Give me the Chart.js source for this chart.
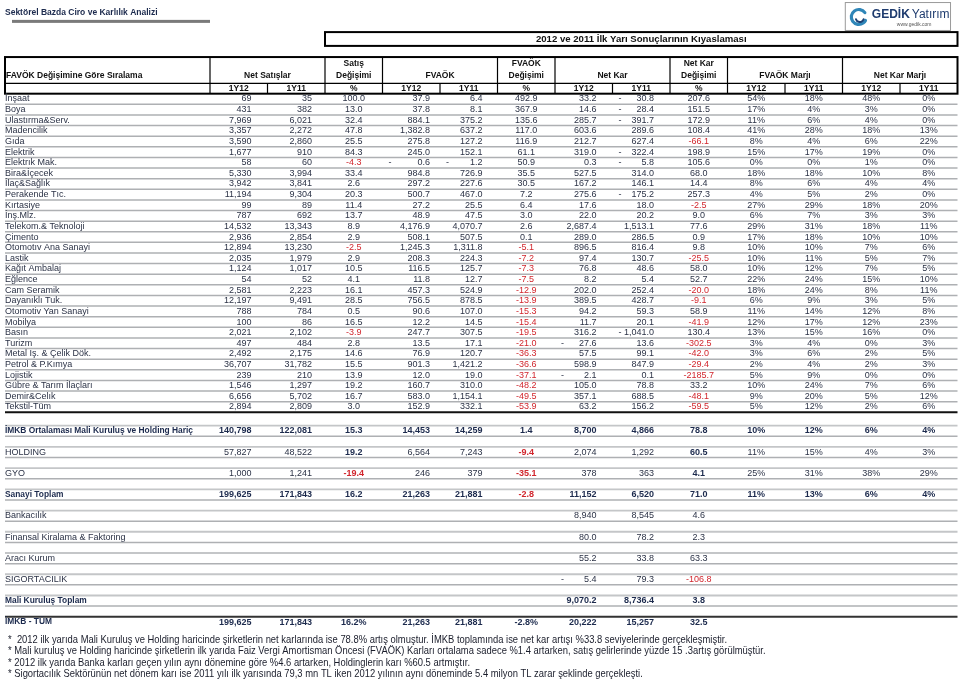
<!DOCTYPE html>
<html><head><meta charset="utf-8">
<script src="https://cdn.jsdelivr.net/npm/chart.js@4.4.0/dist/chart.umd.min.js"></script>
<style>html,body{margin:0;padding:0;background:#fff;}canvas{display:block;}</style>
</head><body>
<canvas id="c" width="960" height="682"></canvas>
<script>
// ---------- DATA ----------
const sectors = ["İnşaat","Boya","Ulastırma&Serv.","Madencilik","Gıda","Elektrik","Elektrık Mak.","Bira&İçecek","İlaç&Sağlık","Perakende Tıc.","Kırtasiye","İnş.Mlz.","Telekom.& Teknoloji","Çimento","Otomotıv Ana Sanayi","Lastik","Kağıt Ambalaj","Eğlence","Cam Seramik","Dayanıklı Tuk.","Otomotiv Yan Sanayi","Mobilya","Basın","Turizm","Metal Iş. & Çelik Dök.","Petrol & P.Kımya","Lojistik","Gübre & Tarım İlaçları","Demir&Celık","Tekstil-Tüm"];
const sales12 = [69,431,7969,3357,3590,1677,58,5330,3942,11194,99,787,14532,2936,12894,2035,1124,54,2581,12197,788,100,2021,497,2492,36707,239,1546,6656,2894];
const sales11 = [35,382,6021,2272,2860,910,60,3994,3841,9304,89,692,13343,2854,13230,1979,1017,52,2223,9491,784,86,2102,484,2175,31782,210,1297,5702,2809];
const salesChg = [100.0,13.0,32.4,47.8,25.5,84.3,-4.3,33.4,2.6,20.3,11.4,13.7,8.9,2.9,-2.5,2.9,10.5,4.1,16.1,28.5,0.5,16.5,-3.9,2.8,14.6,15.5,13.9,19.2,16.7,3.0];
const fvaok12 = [37.9,37.8,884.1,1382.8,275.8,245.0,-0.6,984.8,297.2,500.7,27.2,48.9,4176.9,508.1,1245.3,208.3,116.5,11.8,457.3,756.5,90.6,12.2,247.7,13.5,76.9,901.3,12.0,160.7,583.0,152.9];
const fvaok11 = [6.4,8.1,375.2,637.2,127.2,152.1,-1.2,726.9,227.6,467.0,25.5,47.5,4070.7,507.5,1311.8,224.3,125.7,12.7,524.9,878.5,107.0,14.5,307.5,17.1,120.7,1421.2,19.0,310.0,1154.1,332.1];
const fvaokChg = [492.9,367.9,135.6,117.0,116.9,61.1,50.9,35.5,30.5,7.2,6.4,3.0,2.6,0.1,-5.1,-7.2,-7.3,-7.5,-12.9,-13.9,-15.3,-15.4,-19.5,-21.0,-36.3,-36.6,-37.1,-48.2,-49.5,-53.9];
const net12 = [33.2,14.6,285.7,603.6,212.7,319.0,0.3,527.5,167.2,275.6,17.6,22.0,2687.4,289.0,896.5,97.4,76.8,8.2,202.0,389.5,94.2,11.7,316.2,-27.6,57.5,598.9,-2.1,105.0,357.1,63.2];
const net11 = [-30.8,-28.4,-391.7,289.6,627.4,-322.4,-5.8,314.0,146.1,-175.2,18.0,20.2,1513.1,286.5,816.4,130.7,48.6,5.4,252.4,428.7,59.3,20.1,-1041.0,13.6,99.1,847.9,0.1,78.8,688.5,156.2];
const netChg = [207.6,151.5,172.9,108.4,-66.1,198.9,105.6,68.0,14.4,257.3,-2.5,9.0,77.6,0.9,9.8,-25.5,58.0,52.7,-20.0,-9.1,58.9,-41.9,130.4,-302.5,-42.0,-29.4,-2185.7,33.2,-48.1,-59.5];
const fvaokMargin12 = [54,17,11,41,8,15,0,18,8,4,27,6,29,17,10,10,10,22,18,6,11,12,13,3,3,2,5,10,9,5];
const fvaokMargin11 = [18,4,6,28,4,17,0,18,6,5,29,7,31,18,10,11,12,24,24,9,14,17,15,4,6,4,9,24,20,12];
const netMargin12 = [48,3,4,18,6,19,1,10,4,2,18,3,18,10,7,5,7,15,8,3,12,12,16,0,2,2,0,7,5,2];
const netMargin11 = [0,0,0,13,22,0,0,8,4,0,20,3,11,10,6,7,5,10,11,5,8,23,0,3,5,3,0,6,12,6];

const summaryLabels = ["İMKB Ortalaması Mali Kuruluş ve Holding Hariç","HOLDING","GYO","Sanayi Toplam","Bankacılık","Finansal Kiralama & Faktoring","Aracı Kurum","SIGORTACILIK","Mali Kuruluş Toplam","İMKB - TÜM"];
const sumSales12 = [140798,57827,1000,199625,null,null,null,null,null,199625];
const sumSales11 = [122081,48522,1241,171843,null,null,null,null,null,171843];
const sumSalesChg = [15.3,19.2,-19.4,16.2,null,null,null,null,null,16.2];
const sumFvaok12 = [14453,6564,246,21263,null,null,null,null,null,21263];
const sumFvaok11 = [14259,7243,379,21881,null,null,null,null,null,21881];
const sumFvaokChg = [1.4,-9.4,-35.1,-2.8,null,null,null,null,null,-2.8];
const sumNet12 = [8700,2074,378,11152,8940,80.0,55.2,-5.4,9070.2,20222];
const sumNet11 = [4866,1292,363,6520,8545,78.2,33.8,79.3,8736.4,15257];
const sumNetChg = [78.8,60.5,4.1,71.0,4.6,2.3,63.3,-106.8,3.8,32.5];
const sumFvaokMargin12 = [10,11,25,11,null,null,null,null,null,null];
const sumFvaokMargin11 = [12,15,31,13,null,null,null,null,null,null];
const sumNetMargin12 = [6,4,38,6,null,null,null,null,null,null];
const sumNetMargin11 = [4,3,29,4,null,null,null,null,null,null];
const sumDecimals = [0,0,0,0,0,1,1,1,1,0];

const groupHeaders = ["Net Satışlar","Satış|Değişimi","FVAÖK","FVAÖK|Değişimi","Net Kar","Net Kar|Değişimi","FVAÖK Marjı","Net Kar Marjı"];
const subHeaders = ["1Y12","1Y11","%","1Y12","1Y11","%","1Y12","1Y11","%","1Y12","1Y11","1Y12","1Y11"];
const footnotes = [
 "*  2012 ilk yarıda Mali Kuruluş ve Holding haricinde şirketlerin net karlarında ise 78.8% artış olmuştur. İMKB toplamında ise net kar artışı %33.8 seviyelerinde gerçekleşmiştir.",
 "* Mali kuruluş ve Holding haricinde şirketlerin ilk yarıda Faiz Vergi Amortisman Öncesi (FVAÖK) Karları ortalama sadece %1.4 artarken, satış gelirlerinde yüzde 15 .3artış görülmüştür.",
 "* 2012 ilk yarıda Banka karları geçen yılın aynı dönemine göre %4.6 artarken, Holdinglerin karı %60.5 artmıştır.",
 "* Sigortacılık Sektörünün net dönem karı ise 2011 yılı ilk yarısında 79,3 mn TL iken 2012 yılının aynı döneminde 5.4 milyon TL zarar şeklinde gerçekleşti."
];

// ---------- LAYOUT / STYLE ----------
const COLW = 57.5, ROWH = 10.62, X0 = 210, Y0 = 99;   // pixel mapping of column/row units
const W = 960, H = 682;
const colKinds = ['val','val','pct','val','val','pct','val','val','pct','mrg','mrg','mrg','mrg'];
const colDec = [0,0,1,1,1,1,1,1,1,0,0,0,0];
const rightPad = [16,13,0,10,15,0,16,16,0,0,0,0,0];
const groupSpans = [[0,2],[2,3],[3,5],[5,6],[6,8],[8,9],[9,11],[11,13]];
const SUM_START = 31.25, SUM_STEP = 2;
const sumBold = [1,0,0,1,0,0,0,0,1,1];
const sumPctBold = [1,1,1,1,0,0,0,0,1,1];
const TXT = '#2b3246', NAVY = '#1c2a4d', RED = '#d1262d', GREY = '#aeb0b3';
const FONT = '"Liberation Sans", Arial, sans-serif';
const FN_REF_LINE = 2, FN_REF_END = 470;

const cols = [sales12,sales11,salesChg,fvaok12,fvaok11,fvaokChg,net12,net11,netChg,fvaokMargin12,fvaokMargin11,netMargin12,netMargin11];
const sumCols = [sumSales12,sumSales11,sumSalesChg,sumFvaok12,sumFvaok11,sumFvaokChg,sumNet12,sumNet11,sumNetChg,sumFvaokMargin12,sumFvaokMargin11,sumNetMargin12,sumNetMargin11];
const anchorX = j => colKinds[j]==='val' ? j+1 : j+0.5;
const LABEL_X = (5 - X0)/COLW;

const datasets = cols.map((arr,j)=>{
  const pts = arr.map((v,i)=>({x:anchorX(j), y:i, v, sum:-1}));
  sumCols[j].forEach((v,k)=>{ if(v!==null) pts.push({x:anchorX(j), y:SUM_START+SUM_STEP*k, v, sum:k}); });
  return {label:subHeaders[j], col:j, data:pts, pointRadius:0, pointHoverRadius:0, showLine:false};
});
const labelPts = sectors.map((t,i)=>({x:LABEL_X, y:i, t, sum:-1}));
summaryLabels.forEach((t,k)=>labelPts.push({x:LABEL_X, y:SUM_START+SUM_STEP*k, t, sum:k}));
datasets.push({label:'labels', col:-1, data:labelPts, pointRadius:0, pointHoverRadius:0, showLine:false});

function fmtNum(v, dec){ return Math.abs(v).toLocaleString('en-US',{minimumFractionDigits:dec, maximumFractionDigits:dec}); }

const tablePlugin = {
  id:'tablePlugin',
  afterDatasetsDraw(chart){
    const ctx = chart.ctx, sx = chart.scales.x, sy = chart.scales.y;
    const X = v=>sx.getPixelForValue(v), Y = v=>sy.getPixelForValue(v);
    const L = X(LABEL_X), R = X(13);
    ctx.save();
    // Sheet title
    ctx.fillStyle = NAVY; ctx.font = 'bold 8.5px '+FONT; ctx.textBaseline='middle'; ctx.textAlign='left';
    ctx.fillText('Sektörel Bazda Ciro ve Karlılık Analizi', L, Y(-8.1));
    ctx.fillStyle = '#7a7a7a'; ctx.fillRect(X((12-X0)/COLW), Y(-7.45), X(0)-X((12-X0)/COLW), 3);
    // Logo
    drawLogo(ctx, X(11.04), Y(-9.13), X(12.87)-X(11.04), Y(-6.5)-Y(-9.13));
    // Comparison title box
    ctx.strokeStyle='#000'; ctx.lineWidth=2;
    ctx.strokeRect(X(2), Y(-6.3), R-X(2), Y(-5.0)-Y(-6.3));
    ctx.fillStyle='#111'; ctx.font='bold 9.6px '+FONT; ctx.textAlign='center';
    ctx.fillText('2012 ve 2011 İlk Yarı Sonuçlarının Kıyaslaması', (X(2)+R)/2, Y(-5.65));
    // Header box
    const hT = Y(-3.95), hM = Y(-1.48), hB = Y(-0.5);
    ctx.lineWidth=1.2; ctx.strokeStyle='#000';
    ctx.beginPath(); ctx.moveTo(L,hM); ctx.lineTo(R,hM); ctx.stroke();
    groupSpans.forEach(([a,b])=>{ ctx.beginPath(); ctx.moveTo(X(a),hT); ctx.lineTo(X(a),hB); ctx.stroke(); });
    for(let j=1;j<13;j++){ if(!groupSpans.some(s=>s[0]===j)){ ctx.beginPath(); ctx.moveTo(X(j),hM); ctx.lineTo(X(j),hB); ctx.stroke(); } }
    ctx.lineWidth=2; ctx.strokeRect(L, hT, R-L, hB-hT);
    ctx.fillStyle='#111'; ctx.font='bold 8.5px '+FONT; ctx.textAlign='left';
    ctx.fillText('FAVÖK Değişimine Göre Sıralama', L+1, Y(-2.17));
    ctx.textAlign='center';
    groupHeaders.forEach((h,g)=>{
      const [a,b]=groupSpans[g], cx=(X(a)+X(b))/2, parts=h.split('|');
      if(parts.length===2){ ctx.fillText(parts[0],cx,Y(-3.3)); ctx.fillText(parts[1],cx,Y(-2.17)); }
      else ctx.fillText(h,cx,Y(-2.17));
    });
    subHeaders.forEach((h,j)=>ctx.fillText(h,(X(j)+X(j+1))/2,Y(-1.0)));
    // Row separators
    const hline=(r,col,w)=>{ctx.strokeStyle=col; ctx.lineWidth=w; ctx.beginPath(); ctx.moveTo(L,Y(r)); ctx.lineTo(R,Y(r)); ctx.stroke();};
    for(let i=0;i<sectors.length-1;i++) hline(i+0.5,GREY,1.5);
    hline(sectors.length-0.5,'#111',2);
    summaryLabels.forEach((t,k)=>{
      const r=SUM_START+SUM_STEP*k;
      if(k===summaryLabels.length-1){ hline(r-0.5,'#333',2.2); }
      else { hline(r-0.5,'#c4c6c8',1.8); hline(r+0.5,GREY,1.5); }
    });
    // Cells
    chart.data.datasets.forEach((ds,di)=>{
      const meta = chart.getDatasetMeta(di);
      meta.data.forEach((el,k)=>{
        const d = ds.data[k], px = el.x, py = el.y;
        const bold = d.sum>=0 && sumBold[d.sum];
        ctx.textBaseline='middle';
        if(ds.col<0){
          ctx.fillStyle = bold? NAVY : TXT; ctx.font=(bold?'bold 8.4px ':'9px ')+FONT; ctx.textAlign='left';
          ctx.fillText(d.t, px, py); return;
        }
        const j=ds.col, kind=colKinds[j];
        if(kind==='val'){
          const dec = d.sum>=0 ? sumDecimals[d.sum] : colDec[j];
          ctx.fillStyle = bold? NAVY : TXT; ctx.font=(bold?'bold ':'')+'9px '+FONT;
          ctx.textAlign='right'; ctx.fillText(fmtNum(d.v,dec), px-rightPad[j], py);
          if(d.v<0){ ctx.textAlign='left'; ctx.fillText('-', X(j)+6, py); }
        } else if(kind==='pct'){
          const pb = d.sum>=0 && sumPctBold[d.sum];
          const last = d.sum===summaryLabels.length-1;
          let s = d.v.toFixed(1) + (last && j!==8 ? '%' : '');
          ctx.fillStyle = (d.v<0 && !last) ? RED : (pb? NAVY: TXT);
          ctx.font=(pb?'bold ':'')+'9px '+FONT; ctx.textAlign='center';
          ctx.fillText(s, px, py);
        } else {
          ctx.fillStyle = bold? NAVY : TXT; ctx.font=(bold?'bold ':'')+'9px '+FONT; ctx.textAlign='center';
          ctx.fillText(d.v+'%', px, py);
        }
      });
    });
    // Footnotes (uniform condensed font)
    ctx.fillStyle='#1a1d2b'; ctx.textAlign='left'; ctx.font='11px '+FONT;
    const x0=X((8-X0)/COLW);
    const k = (FN_REF_END-x0)/ctx.measureText(footnotes[FN_REF_LINE]).width;
    footnotes.forEach((t,i)=>{
      const y=Y(50.95+1.07*i);
      ctx.save(); ctx.translate(x0,y); ctx.scale(k,1); ctx.fillText(t,0,0); ctx.restore();
    });
    ctx.restore();
  }
};

function drawLogo(ctx,x,y,w,h){
  ctx.save();
  ctx.strokeStyle='#9a9a9a'; ctx.lineWidth=1; ctx.strokeRect(x+0.5,y+0.5,w,h);
  const cx=x+14, cy=y+h/2+1;
  ctx.lineCap='round';
  ctx.strokeStyle='#2f86b8'; ctx.lineWidth=3.2;
  ctx.beginPath(); ctx.arc(cx,cy,7.5,-0.2*Math.PI,0.15*Math.PI,true); ctx.stroke();
  ctx.strokeStyle='#1b3f73'; ctx.lineWidth=2;
  ctx.beginPath(); ctx.arc(cx+1,cy+1,4,0.1*Math.PI,0.9*Math.PI,false); ctx.stroke();
  ctx.fillStyle='#1e3b6e'; ctx.textBaseline='alphabetic'; ctx.textAlign='left';
  ctx.font='bold 12px '+FONT; ctx.fillText('GEDİK', x+27, y+16);
  const gw=ctx.measureText('GEDİK').width;
  ctx.font='12px '+FONT; ctx.fillText('Yatırım', x+29+gw, y+16);
  ctx.fillStyle='#555'; ctx.font='5px '+FONT; ctx.fillText('www.gedik.com', x+52, y+24);
  ctx.restore();
}

new Chart(document.getElementById('c'),{
  type:'scatter',
  data:{datasets},
  options:{
    responsive:false, animation:false, events:[],
    layout:{padding:0},
    plugins:{legend:{display:false}, tooltip:{enabled:false}},
    scales:{
      x:{type:'linear', display:false, min:(0-X0)/COLW, max:(W-X0)/COLW},
      y:{type:'linear', display:false, reverse:true, min:(0-Y0)/ROWH, max:(H-Y0)/ROWH}
    }
  },
  plugins:[tablePlugin]
});
</script>
</body></html>
